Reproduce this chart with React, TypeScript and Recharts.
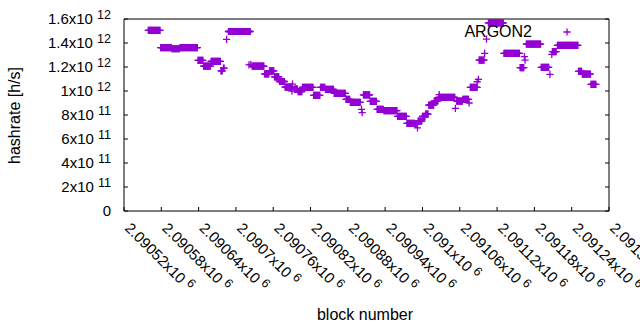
import React from "react";
import { ScatterChart, Scatter, XAxis, YAxis, Legend } from "recharts";

// ---- data (runs of consecutive blocks sharing one hashrate value) ----
const runStart = [
  2090559, 2090579, 2090597, 2090610, 2090639, 2090648, 2090660, 2090676, 2090680, 2090685,
  2090688, 2090721, 2090724, 2090726, 2090746, 2090754, 2090762, 2090770, 2090779, 2090790,
  2090791, 2090794, 2090800, 2090807, 2090825, 2090836, 2090844, 2090858, 2090877, 2090884,
  2090902, 2090903, 2090905, 2090916, 2090927, 2090938, 2090960, 2090975, 2090988, 2090992,
  2090993, 2091000, 2091005, 2091010, 2091019, 2091027, 2091026, 2091053, 2091055, 2091065,
  2091075, 2091077, 2091088, 2091090, 2091091, 2091100, 2091103, 2091106, 2091131, 2091157,
  2091164, 2091165, 2091167, 2091191, 2091205, 2091208, 2091209, 2091217, 2091251, 2091257,
  2091271,
];
const runEnd = [
  2090578, 2090596, 2090609, 2090638, 2090647, 2090659, 2090675, 2090678, 2090681, 2090685,
  2090723, 2090721, 2090724, 2090745, 2090753, 2090761, 2090769, 2090778, 2090790, 2090790,
  2090791, 2090799, 2090806, 2090824, 2090835, 2090843, 2090857, 2090876, 2090883, 2090900,
  2090902, 2090903, 2090915, 2090926, 2090937, 2090959, 2090974, 2090987, 2090991, 2090992,
  2090999, 2091004, 2091009, 2091018, 2091025, 2091027, 2091052, 2091053, 2091064, 2091074,
  2091075, 2091088, 2091088, 2091090, 2091099, 2091100, 2091103, 2091130, 2091156, 2091163,
  2091164, 2091165, 2091190, 2091203, 2091205, 2091208, 2091215, 2091250, 2091256, 2091270,
  2091279,
];
const runValue = [
  1.505e12, 1.362e12, 1.352e12, 1.362e12, 1.256e12, 1.208e12, 1.247e12, 1.167e12, 1.19e12, 1.431e12,
  1.496e12, 1.217e12, 1.222e12, 1.208e12, 1.142e12, 1.167e12, 1.117e12, 1.079e12, 1.033e12, 1.0e12,
  1.058e12, 1.015e12, 0.994e12, 1.031e12, 0.964e12, 1.031e12, 1.014e12, 0.981e12, 0.931e12, 0.906e12,
  0.847e12, 0.819e12, 0.967e12, 0.914e12, 0.847e12, 0.836e12, 0.789e12, 0.731e12, 0.722e12, 0.692e12,
  0.75e12, 0.789e12, 0.808e12, 0.883e12, 0.917e12, 0.969e12, 0.947e12, 0.856e12, 0.915e12, 0.931e12,
  0.9e12, 1.031e12, 1.077e12, 1.097e12, 1.258e12, 1.314e12, 1.433e12, 1.567e12, 1.314e12, 1.194e12,
  1.286e12, 1.258e12, 1.39e12, 1.197e12, 1.139e12, 1.306e12, 1.328e12, 1.381e12, 1.164e12, 1.14e12,
  1.056e12,
];

const xTicks = [
  2090520, 2090580, 2090640, 2090700, 2090760, 2090820, 2090880, 2090940, 2091000, 2091060,
  2091120, 2091180, 2091240, 2091300,
];
const xTickLabels = [
  "2.09052", "2.09058", "2.09064", "2.0907", "2.09076", "2.09082", "2.09088", "2.09094", "2.091",
  "2.09106", "2.09112", "2.09118", "2.09124", "2.0913",
];
const xTickExp = "6";
const yTicks = [0, 2e11, 4e11, 6e11, 8e11, 1e12, 1.2e12, 1.4e12, 1.6e12];
const yTickMant = ["0", "2x10", "4x10", "6x10", "8x10", "1x10", "1.2x10", "1.4x10", "1.6x10"];
const yTickExp = ["", "11", "11", "11", "11", "12", "12", "12", "12"];

const seriesName = "ARGON2";
const COLOR = "#9400d3";
const FONT = "'Liberation Sans', Arial, sans-serif";

const points: { block: number; rate: number }[] = [];
runStart.forEach((s, i) => {
  for (let b = s; b <= runEnd[i]; b++) points.push({ block: b, rate: runValue[i] });
});

const PlusShape = (props: any) => {
  const { cx, cy } = props;
  if (cx == null || cy == null) return null;
  const h = 3.6;
  return (
    <path
      d={`M${cx - h},${cy}H${cx + h}M${cx},${cy - h}V${cy + h}`}
      stroke={COLOR}
      strokeWidth={1.3}
      fill="none"
    />
  );
};

const XTick = (props: any) => {
  const { x, y, payload } = props;
  const i = xTicks.indexOf(payload.value);
  const lx = x;
  const ly = y + 18;
  return (
    <g>
      <line x1={x} x2={x} y1={y} y2={y - 4} stroke="#000" />
      <text
        x={lx}
        y={ly}
        transform={`rotate(45 ${lx} ${ly})`}
        textAnchor="start"
        fontFamily={FONT}
        fontSize={15}
        fill="#000"
      >
        {xTickLabels[i] + "x10 "}
        <tspan dy={-5} fontSize={12.5}>
          {xTickExp}
        </tspan>
      </text>
    </g>
  );
};

const TopTick = (props: any) => {
  const { x, y } = props;
  return <line x1={x} x2={x} y1={y} y2={y + 4} stroke="#000" />;
};

const YTick = (props: any) => {
  const { x, y, payload } = props;
  const i = yTicks.indexOf(payload.value);
  return (
    <g>
      <line x1={x} x2={x + 4} y1={y} y2={y} stroke="#000" />
      <text x={111} y={y + 5.4} textAnchor="end" fontFamily={FONT} fontSize={15} fill="#000">
        {yTickExp[i] ? yTickMant[i] + " " : yTickMant[i]}
        {yTickExp[i] ? (
          <tspan dy={-5} fontSize={12.5}>
            {yTickExp[i]}
          </tspan>
        ) : null}
      </text>
    </g>
  );
};

const RightTick = (props: any) => {
  const { x, y } = props;
  return <line x1={x} x2={x - 4} y1={y} y2={y} stroke="#000" />;
};

const LegendContent = () => (
  <svg width={170} height={40}>
    <text x={92} y={26.7} textAnchor="end" fontFamily={FONT} fontSize={16} fill="#000">
      {seriesName}
    </text>
    <PlusShape cx={127} cy={22} />
  </svg>
);

export default function App() {
  return (
    <div style={{ position: "absolute", left: 0, top: 0, width: 640, height: 330 }}>
      <ScatterChart width={640} height={330} margin={{ top: 0, right: 0, bottom: 0, left: 0 }}>
        <XAxis
          xAxisId="b"
          dataKey="block"
          type="number"
          domain={[2090520, 2091300]}
          ticks={xTicks}
          interval={0}
          orientation="bottom"
          height={119}
          tickSize={0}
          tickMargin={0}
          tickLine={false}
          axisLine={{ stroke: "#000" }}
          tick={<XTick />}
          allowDataOverflow
        />
        <XAxis
          xAxisId="t"
          type="number"
          domain={[2090520, 2091300]}
          ticks={xTicks}
          interval={0}
          orientation="top"
          height={19}
          tickSize={0}
          tickMargin={0}
          tickLine={false}
          axisLine={{ stroke: "#000" }}
          tick={<TopTick />}
          allowDataOverflow
        />
        <YAxis
          yAxisId="l"
          dataKey="rate"
          type="number"
          domain={[0, 1.6e12]}
          ticks={yTicks}
          interval={0}
          width={124}
          tickSize={0}
          tickMargin={0}
          tickLine={false}
          axisLine={{ stroke: "#000" }}
          tick={<YTick />}
          allowDataOverflow
          label={{
            value: "hashrate [h/s]",
            angle: -90,
            position: "insideLeft",
            offset: 0,
            content: () => (
              <text
                x={20}
                y={115.5}
                transform="rotate(-90 20 115.5)"
                textAnchor="middle"
                fontFamily={FONT}
                fontSize={16}
                fill="#000"
              >
                hashrate [h/s]
              </text>
            ),
          }}
        />
        <YAxis
          yAxisId="r"
          orientation="right"
          type="number"
          domain={[0, 1.6e12]}
          ticks={yTicks}
          interval={0}
          width={31}
          tickSize={0}
          tickMargin={0}
          tickLine={false}
          axisLine={{ stroke: "#000" }}
          tick={<RightTick />}
          allowDataOverflow
        />
        <Scatter
          name={seriesName}
          xAxisId="b"
          yAxisId="l"
          data={points}
          shape={PlusShape}
          fill={COLOR}
          isAnimationActive={false}
        />
        <Legend
          layout="horizontal"
          verticalAlign="middle"
          align="center"
          wrapperStyle={{ position: "absolute", left: 440, top: 10, width: 170, height: 40 }}
          content={() => <LegendContent />}
        />
      </ScatterChart>
      <div
        style={{
          position: "absolute",
          left: 0,
          top: 305,
          width: 730,
          textAlign: "center",
          fontFamily: FONT,
          fontSize: 16,
          color: "#000",
          lineHeight: "20px",
          pointerEvents: "none",
        }}
      >
        block number
      </div>
    </div>
  );
}
